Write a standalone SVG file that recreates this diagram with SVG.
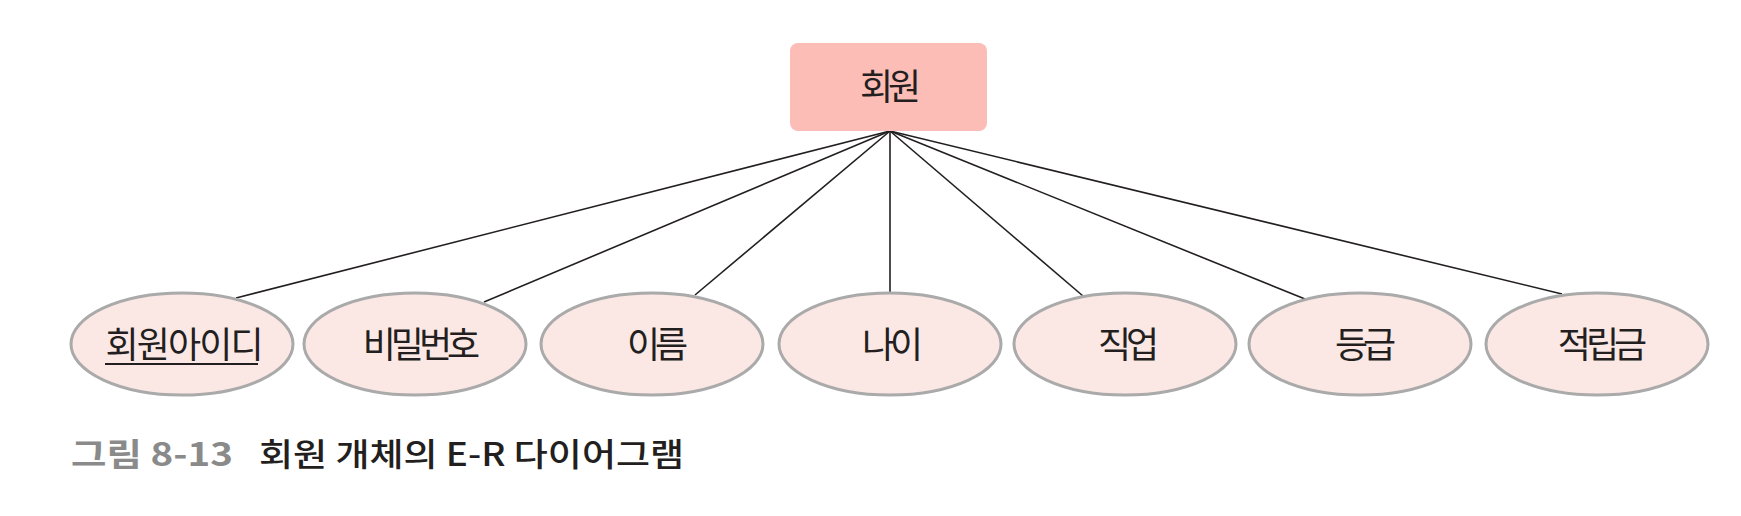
<svg xmlns="http://www.w3.org/2000/svg" width="1741" height="516" viewBox="0 0 1741 516">
<style>
.attr ellipse{fill:#fbe8e5;stroke:#aaaaaa;stroke-width:3}
.lbl{font-family:"Noto Sans CJK KR","Noto Sans",sans-serif;font-size:36px;fill:#231f20;text-anchor:middle;letter-spacing:-5px}
.conn line{stroke:#231f20;stroke-width:1.6}
.cap{font-family:"Noto Sans CJK KR","Noto Sans",sans-serif;font-size:32px}
</style>
<rect width="1741" height="516" fill="#ffffff"/>
<g id="connectors" class="conn">
<line x1="890" y1="131" x2="236" y2="298"/>
<line x1="890" y1="131" x2="484" y2="302"/>
<line x1="890" y1="131" x2="695" y2="295"/>
<line x1="890" y1="131" x2="890" y2="294"/>
<line x1="890" y1="131" x2="1083" y2="296"/>
<line x1="890" y1="131" x2="1305" y2="299"/>
<line x1="890" y1="131" x2="1562" y2="294"/>
</g>
<g id="entity">
<rect x="790" y="43" width="197" height="88" rx="8" fill="#fcbdb6"/>
<text class="lbl" x="888" y="100">회원</text>
</g>
<g id="attr-id" class="attr">
<ellipse cx="182" cy="344" rx="111" ry="51"/>
<text class="lbl" x="182" y="358" textLength="153" lengthAdjust="spacing">회원아이디</text>
<line x1="105" y1="364" x2="258" y2="364" stroke="#231f20" stroke-width="2"/>
</g>
<g id="attr-pw" class="attr">
<ellipse cx="415" cy="344" rx="111" ry="51"/>
<text class="lbl" x="419" y="358">비밀번호</text>
</g>
<g id="attr-name" class="attr">
<ellipse cx="652" cy="344" rx="111" ry="51"/>
<text class="lbl" x="655" y="358">이름</text>
</g>
<g id="attr-age" class="attr">
<ellipse cx="890" cy="344" rx="111" ry="51"/>
<text class="lbl" x="890" y="358">나이</text>
</g>
<g id="attr-job" class="attr">
<ellipse cx="1125" cy="344" rx="111" ry="51"/>
<text class="lbl" x="1126" y="358">직업</text>
</g>
<g id="attr-grade" class="attr">
<ellipse cx="1360" cy="344" rx="111" ry="51"/>
<text class="lbl" x="1363" y="358">등급</text>
</g>
<g id="attr-point" class="attr">
<ellipse cx="1597" cy="344" rx="111" ry="51"/>
<text class="lbl" x="1600" y="358">적립금</text>
</g>
<g id="caption">
<text class="cap" x="71" y="466" fill="#8a8a8a" font-weight="bold" textLength="162" lengthAdjust="spacingAndGlyphs">그림 8-13</text>
<text class="cap" x="259" y="466" fill="#231f20" font-weight="500" textLength="425" lengthAdjust="spacingAndGlyphs">회원 개체의 E-R 다이어그램</text>
</g>
</svg>
